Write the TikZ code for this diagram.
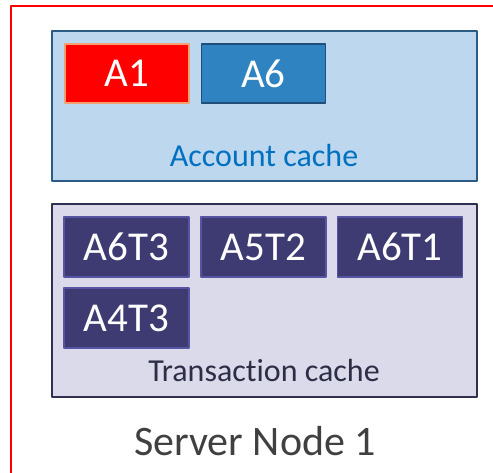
\documentclass[tikz,border=0pt]{standalone}
\usepackage{fontspec}
\setmainfont{Carlito}[Ligatures={NoCommon,NoRare}]
\usetikzlibrary{positioning}
\definecolor{acctfill}{HTML}{BDD7EE}
\definecolor{acctline}{HTML}{2A5C85}
\definecolor{acctblue}{HTML}{2E83C0}
\definecolor{acctdark}{HTML}{1F4E79}
\definecolor{acctText}{HTML}{0070C0}
\definecolor{hotline}{HTML}{F4A070}
\definecolor{txnfill}{HTML}{DADAEB}
\definecolor{txnline}{HTML}{2F2F4F}
\definecolor{txnbox}{HTML}{3D3B72}
\definecolor{txnedge}{HTML}{5755A3}
\definecolor{txnText}{HTML}{2D2D45}
\definecolor{nodeText}{HTML}{404040}
\begin{document}
\begin{tikzpicture}[x=1pt, y=1pt, line join=round,
		acct/.style={draw=acctdark, fill=acctblue, line width=1.5pt, text=white,
			minimum width=124pt, minimum height=59pt, inner sep=0pt, font=\fontsize{41}{41}\selectfont},
		txn/.style={draw=txnedge, fill=txnbox, line width=1.5pt, text=white,
			minimum width=125pt, minimum height=60pt, inner sep=0pt, font=\fontsize{41}{41}\selectfont},
		declare function={w=493; h=472;}]
		\useasboundingbox (0,0) rectangle (w,h);
		% server node frame, cut off right and below
		\draw[red, line width=1.6pt] (11,-5) |- (w+5,466);
		% account cache
		\node[draw=acctline, fill=acctfill, line width=1.5pt, minimum width=425pt, minimum height=150pt,
			inner sep=0pt] (acc) at (264.5,366) {};
		\node[acct, fill=red, draw=hotline] (a1) at (127,398.5) {A1};
		\node[acct] (a6) at (263.5,398.5) {A6};
		\node[anchor=base, text=acctText, font=\fontsize{32}{32}\selectfont] (acclbl) at (264,305.5) {Account cache};
		% transaction cache
		\node[draw=txnline, fill=txnfill, line width=1.5pt, minimum width=425pt, minimum height=193pt,
			inner sep=0pt] (tx) at (264.5,171.5) {};
		\foreach \n/\x/\y/\t in {t1/126.5/225/A6T3, t2/263.5/225/A5T2, t3/400/225/A6T1, t4/126.5/154/A4T3}{
			\node[txn] (\n) at (\x,\y) {\t};
		}
		\node[anchor=base, text=txnText, font=\fontsize{32}{32}\selectfont] (txlbl) at (264,90.5) {Transaction cache};
		\node[anchor=base, text=nodeText, font=\fontsize{42}{42}\selectfont] (srv) at (255,17) {Server Node 1};
\end{tikzpicture}
\end{document}
